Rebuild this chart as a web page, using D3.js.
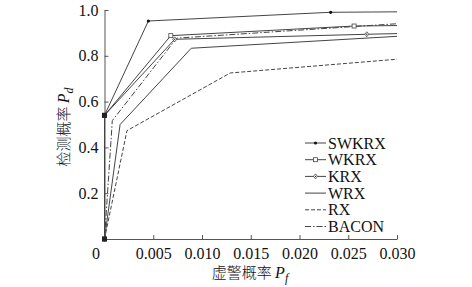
<!DOCTYPE html>
<html>
<head>
<meta charset="utf-8">
<script src="https://cdn.jsdelivr.net/npm/d3@7"></script>
<style>
  body { margin: 0; background: #fff; }
  text { font-family: "Liberation Serif", "Times New Roman", serif; }
</style>
</head>
<body>
<script>
// data
const seriesNames = ['SWKRX', 'WKRX', 'KRX', 'WRX', 'RX', 'BACON'];
const swkrxPf = [0, 0, 0.0045, 0.0232, 0.030];
const swkrxPd = [0, 0.54, 0.952, 0.990, 0.992];
const wkrxPf = [0, 0, 0.0068, 0.0256, 0.030];
const wkrxPd = [0, 0.54, 0.888, 0.930, 0.932];
const krxPf = [0, 0, 0.0072, 0.0269, 0.030];
const krxPd = [0, 0.54, 0.872, 0.894, 0.897];
const wrxPf = [0, 0.0016, 0.0089, 0.030];
const wrxPd = [0, 0.50, 0.833, 0.885];
const rxPf = [0, 0.0023, 0.0129, 0.030];
const rxPd = [0, 0.473, 0.725, 0.785];
const baconPf = [0, 0.0008, 0.0074, 0.030];
const baconPd = [0, 0.517, 0.877, 0.940];
const xTicks = [0, 0.005, 0.010, 0.015, 0.020, 0.025, 0.030];
const yTicks = [0.2, 0.4, 0.6, 0.8, 1.0];

const zip = (xs, ys) => xs.map((v, i) => ({ pf: v, pd: ys[i] }));
const series = [
  { name: seriesNames[0], pts: zip(swkrxPf, swkrxPd), dash: null, marker: 'dot' },
  { name: seriesNames[1], pts: zip(wkrxPf, wkrxPd), dash: null, marker: 'square' },
  { name: seriesNames[2], pts: zip(krxPf, krxPd), dash: null, marker: 'diamond' },
  { name: seriesNames[3], pts: zip(wrxPf, wrxPd), dash: null, marker: null },
  { name: seriesNames[4], pts: zip(rxPf, rxPd), dash: '4,2', marker: null },
  { name: seriesNames[5], pts: zip(baconPf, baconPd), dash: '6,2,1.5,2', marker: null },
];

const W = 472, H = 287;
const svg = d3.select('body').append('svg').attr('width', W).attr('height', H);

const x = d3.scaleLinear().domain([0, 0.030]).range([104.5, 397]);
const y = d3.scaleLinear().domain([0, 1.0]).range([239, 10]);

// axes, ticks pointing inward
const axisX = d3.axisBottom(x).tickValues(xTicks).tickSizeInner(-4).tickSizeOuter(0).tickPadding(9)
  .tickFormat((d) => (d === 0 ? '0' : d3.format('.3f')(d)));
const axisY = d3.axisLeft(y).tickValues(yTicks).tickSizeInner(-4).tickSizeOuter(0).tickPadding(6)
  .tickFormat(d3.format('.1f'));

const gx = svg.append('g').attr('transform', `translate(0, ${y(0)})`).call(axisX);
const gy = svg.append('g').attr('transform', `translate(${x(0)}, 0)`).call(axisY);
[gx, gy].forEach((g) => {
  g.selectAll('path, line').attr('stroke', '#555');
  g.selectAll('text').attr('font-size', 16).attr('fill', '#111')
    .style('font-family', '"Liberation Serif", serif');
});
gx.select('.tick text').attr('dx', '-9');

// lines
const line = d3.line().x((d) => x(d.pf)).y((d) => y(d.pd));
svg.append('g').selectAll('path').data(series).enter().append('path')
  .attr('d', (d) => line(d.pts))
  .attr('fill', 'none')
  .attr('stroke', '#444')
  .attr('stroke-width', 1)
  .attr('stroke-dasharray', (d) => d.dash);

function drawMarker(g, type, cx, cy) {
  if (type === 'dot') {
    g.append('circle').attr('cx', cx).attr('cy', cy).attr('r', 1.6).attr('fill', '#111');
  } else if (type === 'square') {
    g.append('rect').attr('x', cx - 2).attr('y', cy - 2).attr('width', 4).attr('height', 4)
      .attr('fill', 'white').attr('stroke', '#444').attr('stroke-width', 0.8);
  } else if (type === 'diamond') {
    g.append('path').attr('d', `M${cx},${cy - 2.5}L${cx + 2},${cy}L${cx},${cy + 2.5}L${cx - 2},${cy}Z`)
      .attr('fill', 'white').attr('stroke', '#444').attr('stroke-width', 0.8);
    g.append('circle').attr('cx', cx).attr('cy', cy).attr('r', 0.7).attr('fill', '#333');
  }
}

// markers on the interior points (skip the final end point)
const mg = svg.append('g');
series.filter((s) => s.marker).forEach((s) => {
  s.pts.slice(0, -1).forEach((p) => drawMarker(mg, s.marker, x(p.pf), y(p.pd)));
});
// the shared start points look heavy in the original
[0, 0.54].forEach((v) => {
  mg.append('rect').attr('x', x(0) - 2.5).attr('y', y(v) - 2.5).attr('width', 5).attr('height', 5)
    .attr('fill', '#222');
});

// legend
const lg = svg.append('g').attr('transform', 'translate(305, 143)');
series.forEach((s, i) => {
  const row = lg.append('g').attr('transform', `translate(0, ${i * 16.7})`);
  row.append('line').attr('x1', 0).attr('x2', 21).attr('y1', 0).attr('y2', 0)
    .attr('stroke', '#444').attr('stroke-width', 1).attr('stroke-dasharray', s.dash);
  if (s.marker) drawMarker(row, s.marker, 10.5, 0);
  row.append('text').attr('x', 23).attr('y', 5.5).attr('font-size', 16).attr('fill', '#111').text(s.name);
});

// axis titles
const xt = svg.append('text').attr('x', 250).attr('y', 278).attr('text-anchor', 'middle')
  .attr('font-size', 16).attr('fill', '#111');
xt.append('tspan').style('font-family', '"Noto Sans CJK SC", sans-serif').attr('font-size', 15)
  .attr('font-weight', 300).text('虚警概率 ');
xt.append('tspan').attr('font-style', 'italic').text('P');
xt.append('tspan').attr('font-style', 'italic').attr('font-size', 12).attr('dy', 4).text('f');

const yt = svg.append('text').attr('transform', 'translate(69, 127) rotate(-90)').attr('text-anchor', 'middle')
  .attr('font-size', 16).attr('fill', '#111');
yt.append('tspan').style('font-family', '"Noto Sans CJK SC", sans-serif').attr('font-size', 15)
  .attr('font-weight', 300).text('检测概率 ');
yt.append('tspan').attr('font-style', 'italic').text('P');
yt.append('tspan').attr('font-style', 'italic').attr('font-size', 12).attr('dy', 4).text('d');
</script>
</body>
</html>
